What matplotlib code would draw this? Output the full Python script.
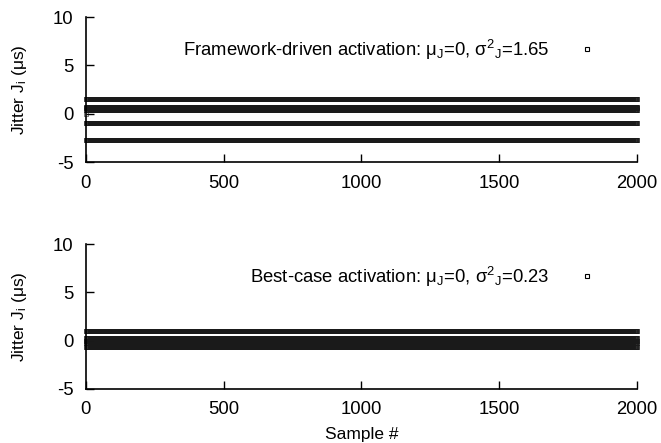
import matplotlib
matplotlib.use("Agg")
import matplotlib.pyplot as plt
import numpy as np

plt.rcParams['font.family'] = ['Liberation Sans', 'DejaVu Sans']
plt.rcParams['mathtext.fontset'] = 'custom'
plt.rcParams['mathtext.rm'] = 'Liberation Sans'
plt.rcParams['mathtext.it'] = 'Liberation Sans'
plt.rcParams['mathtext.sf'] = 'Liberation Sans'
plt.rcParams['axes.unicode_minus'] = False

# jitter levels (us) seen as horizontal bands; each band: (level, first sample, last sample)
fw_bands = [(1.55, 1, 2000), (0.75, 1, 2000), (0.55, 1, 2000), (0.35, 1, 2000),
            (-0.97, 1, 2000), (-2.72, 1, 2000), (0.0, 0, 0)]
bc_bands = [(0.95, 1, 250), (1.02, 251, 2000), (0.23, 1, 2000), (0.0, 0, 2000),
            (-0.25, 1, 2000), (-0.65, 1, 2000)]

fw_label = r'Framework-driven activation: $\mathrm{\mu_J}$=0, $\mathrm{\sigma^{2}{}_{J}}$=1.65'
bc_label = r'Best-case activation: $\mathrm{\mu_J}$=0, $\mathrm{\sigma^{2}{}_{J}}$=0.23'

fig = plt.figure(figsize=(6.61, 4.43), dpi=100)
ax1 = fig.add_axes([0.130, 0.634, 0.8337, 0.3276])
ax2 = fig.add_axes([0.130, 0.1219, 0.8337, 0.3273])


def draw(ax, bands, label):
    first = True
    for lvl, a, b in bands:
        x = np.arange(a, b + 1)
        y = np.full(len(x), lvl)
        ax.plot(x, y, ls='none', marker='s', ms=3.4, mfc='none', mec='0.1',
                mew=0.4, clip_on=False, label=label if first else None)
        first = False
    ax.set_xlim(0, 2000)
    ax.set_ylim(-5, 10)
    ax.set_xticks([0, 500, 1000, 1500, 2000])
    ax.set_yticks([-5, 0, 5, 10])
    ax.spines['top'].set_visible(False)
    ax.spines['right'].set_visible(False)
    for s in ['left', 'bottom']:
        ax.spines[s].set_linewidth(1.2)
    ax.tick_params(direction='in', length=6, width=1, labelsize=13.3, pad=9)
    ax.set_ylabel(r'Jitter J$_\mathrm{i}$ ($\mathrm{\mu}$s)', fontsize=12.5, labelpad=17)
    leg = ax.legend(loc='center right', bbox_to_anchor=(0.942, 0.775), frameon=False,
                    markerfirst=False, fontsize=13.3, borderpad=0, borderaxespad=0,
                    handletextpad=1.02, handlelength=2.0)
    for h in leg.legend_handles:
        h.set_markeredgewidth(0.8)
        h.set_markeredgecolor('black')


draw(ax1, fw_bands, fw_label)
draw(ax2, bc_bands, bc_label)
ax2.set_xlabel('Sample #', fontsize=12.5, labelpad=6)

plt.savefig("out.png", dpi=100)
